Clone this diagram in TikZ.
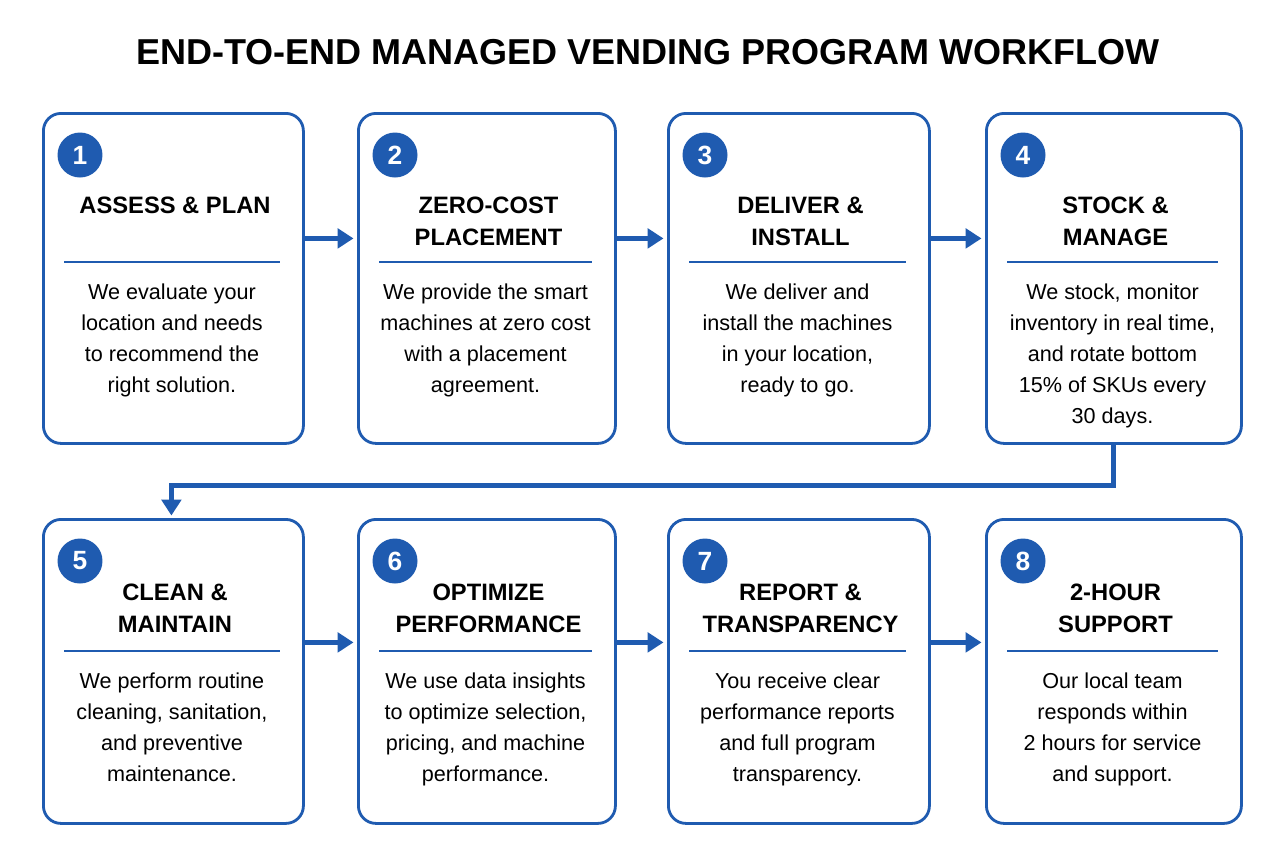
\documentclass[tikz,border=0pt]{standalone}
\usepackage{fontspec}
\setmainfont{Liberation Sans}
\usetikzlibrary{positioning,arrows.meta}
\definecolor{stepblue}{HTML}{1F5BB0}
\tikzset{
  stepbox/.style={draw=stepblue, line width=1.6pt, rounded corners=10pt, fill=white},
  num/.style={circle, fill=stepblue, text=white, minimum size=0.9cm, inner sep=0pt, font=\fontsize{15}{15}\selectfont\bfseries},
  head/.style={align=center, font=\fontsize{13.5}{18}\selectfont\bfseries},
  body/.style={align=center, font=\fontsize{12.3}{17.6}\selectfont},
  flow/.style={-{Triangle[length=9pt,width=11pt]}, draw=stepblue, line width=2.8pt},
}
\begin{document}
\begin{tikzpicture}[x=0.02cm, y=-0.02cm]
\useasboundingbox[fill=white] (0,0) rectangle (1280,860);
\node[font=\fontsize{20.5}{21}\selectfont\bfseries] (title) at (648,52) {END-TO-END MANAGED VENDING PROGRAM WORKFLOW};
% boxes: index / left / right / top / bottom / heading offset / rule offset / heading / body
\foreach \i/\l/\r/\t/\b/\ho/\ro/\h/\tx in {
  1/42/302/112/442/79/150/{ASSESS \& PLAN}/{We evaluate your\\location and needs\\to recommend the\\right solution.},
  2/357/614/112/442/79/150/{ZERO-COST\\PLACEMENT}/{We provide the smart\\machines at zero cost\\with a placement\\agreement.},
  3/667/928/112/442/79/150/{DELIVER \&\\INSTALL}/{We deliver and\\install the machines\\in your location,\\ready to go.},
  4/985/1240/112/442/79/150/{STOCK \&\\MANAGE}/{We stock, monitor\\inventory in real time,\\and rotate bottom\\15\% of SKUs every\\30 days.},
  5/42/302/518/822/60/133/{CLEAN \&\\MAINTAIN}/{We perform routine\\cleaning, sanitation,\\and preventive\\maintenance.},
  6/357/614/518/822/60/133/{OPTIMIZE\\PERFORMANCE}/{We use data insights\\to optimize selection,\\pricing, and machine\\performance.},
  7/667/928/518/822/60/133/{REPORT \&\\TRANSPARENCY}/{You receive clear\\performance reports\\and full program\\transparency.},
  8/985/1240/518/822/60/133/{2-HOUR\\SUPPORT}/{Our local team\\responds within\\2 hours for service\\and support.}}
{
  \node[stepbox, minimum width={(\r-\l)*0.02cm}, minimum height={(\b-\t)*0.02cm}, anchor=north west, inner sep=0pt] (s\i) at (\l,\t) {};
  \node[num] (n\i) at (\l+38,\t+43) {\i};
  \node[head, anchor=north] (h\i) at ({(\l+\r)/2+3},\t+\ho) {\h};
  \draw[stepblue, line width=1.2pt] (\l+22,\t+\ro) -- (\r-22,\t+\ro);
  \node[body, anchor=north] (b\i) at ({(\l+\r)/2},\t+\ro+16) {\tx};
}
% arrows between boxes
\draw[flow] ([yshift=0.8cm]s1.east) -- ([yshift=0.8cm,xshift=-2]s2.west);
\draw[flow] ([yshift=0.8cm]s2.east) -- ([yshift=0.8cm,xshift=-2]s3.west);
\draw[flow] ([yshift=0.8cm]s3.east) -- ([yshift=0.8cm,xshift=-2]s4.west);
\draw[flow] (s4.south) -- ++(0,41) -| ([xshift=-0.04cm, yshift=0.05cm]s5.north);
\draw[flow] ([yshift=0.58cm]s5.east) -- ([yshift=0.58cm,xshift=-2]s6.west);
\draw[flow] ([yshift=0.58cm]s6.east) -- ([yshift=0.58cm,xshift=-2]s7.west);
\draw[flow] ([yshift=0.58cm]s7.east) -- ([yshift=0.58cm,xshift=-2]s8.west);
\end{tikzpicture}
\end{document}
